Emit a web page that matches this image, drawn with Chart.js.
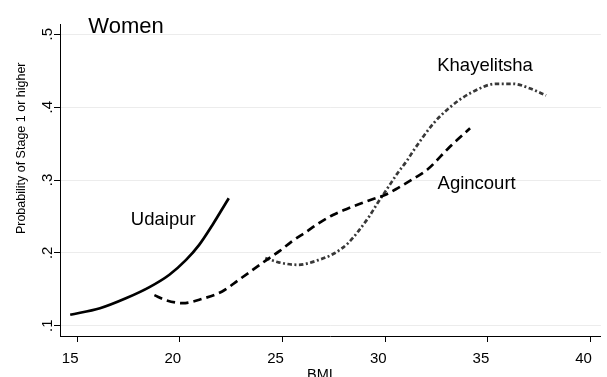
<!DOCTYPE html>
<html><head><meta charset="utf-8">
<script src="https://cdn.jsdelivr.net/npm/chart.js@4.4.1/dist/chart.umd.min.js"></script>
<style>html,body{margin:0;padding:0;background:#fff}#wrap{width:607px;height:377px}</style>
</head><body><div id="wrap"><canvas id="c" width="607" height="377"></canvas></div>
<script>
// ---- data ----
const udaipurBMI  = [14.66, 16.11, 17.40, 18.52, 19.49, 20.29, 20.94, 21.58, 22.38];
const udaipurProb = [0.115, 0.124, 0.138, 0.153, 0.170, 0.190, 0.211, 0.238, 0.275];

const agincourtBMI  = [18.76, 19.33, 20.13, 21.10, 22.06, 22.87, 24.16, 24.88, 25.44, 26.16, 26.81, 27.45, 28.10, 28.74, 29.38, 29.95, 30.59, 31.39, 32.04, 33.16, 34.13];
const agincourtProb = [0.142, 0.135, 0.131, 0.137, 0.147, 0.163, 0.189, 0.203, 0.2155, 0.229, 0.2415, 0.252, 0.260, 0.267, 0.2735, 0.279, 0.2885, 0.302, 0.314, 0.346, 0.371];

const khayelitshaBMI  = [24.16, 24.80, 25.76, 26.73, 27.53, 28.18, 28.74, 29.22, 29.62, 30.11, 30.59, 31.07, 31.39, 32.36, 33.16, 34.13, 35.41, 36.22, 37.02, 37.83];
const khayelitshaProb = [0.193, 0.187, 0.1836, 0.190, 0.1995, 0.213, 0.2315, 0.250, 0.268, 0.2886, 0.309, 0.327, 0.341, 0.378, 0.400, 0.419, 0.432, 0.432, 0.426, 0.416];

const xTickValues = [15, 20, 25, 30, 35, 40];
const xTickLabels = ['15', '20', '25', '30', '35', '40'];
const yTickValues = [0.1, 0.2, 0.3, 0.4, 0.5];
const yTickLabels = ['.1', '.2', '.3', '.4', '.5'];

const seriesNames = ['Udaipur', 'Agincourt', 'Khayelitsha'];
const seriesLabelBMI  = [19.19, 34.45, 34.86];
const seriesLabelProb = [0.2455, 0.2948, 0.4572];

const panelTitle = 'Women';
const xAxisTitle = 'BMI';
const yAxisTitle = 'Probability of Stage 1 or higher';

// ---- chart ----
const FONT = "'Liberation Sans', Arial, Helvetica, sans-serif";
Chart.defaults.font.family = FONT;
Chart.defaults.color = '#000';

const toXY = (xs, ys) => xs.map((x, i) => ({x: x, y: ys[i]}));

const textPlugin = {
  id: 'texts',
  afterDatasetsDraw(chart) {
    const ctx = chart.ctx;
    const xs = chart.scales.x, ys = chart.scales.y;
    ctx.save();
    ctx.fillStyle = '#000';
    // series labels
    ctx.font = '18.5px ' + FONT;
    ctx.textAlign = 'center';
    ctx.textBaseline = 'middle';
    seriesNames.forEach((n, i) => {
      ctx.fillText(n, xs.getPixelForValue(seriesLabelBMI[i]), ys.getPixelForValue(seriesLabelProb[i]));
    });
    // panel title
    ctx.font = '22px ' + FONT;
    ctx.textAlign = 'center';
    ctx.textBaseline = 'alphabetic';
    ctx.fillText(panelTitle, 126, 32.7);
    // x axis title
    ctx.font = '14.5px ' + FONT;
    ctx.fillText(xAxisTitle, 320, 378.5);
    // y axis title
    ctx.font = '12.5px ' + FONT;
    ctx.translate(25, 148.3);
    ctx.rotate(-Math.PI / 2);
    ctx.textAlign = 'center';
    ctx.textBaseline = 'alphabetic';
    ctx.fillText(yAxisTitle, 0, 0);
    ctx.restore();
  }
};

new Chart(document.getElementById('c'), {
  type: 'line',
  data: {
    datasets: [
      {label: seriesNames[0], data: toXY(udaipurBMI, udaipurProb), borderColor: '#000', borderWidth: 2.7, pointRadius: 0, cubicInterpolationMode: 'monotone', fill: false},
      {label: seriesNames[1], data: toXY(agincourtBMI, agincourtProb), borderColor: '#000', borderWidth: 2.7, borderDash: [8.5, 5], pointRadius: 0, cubicInterpolationMode: 'monotone', fill: false},
      {label: seriesNames[2], data: toXY(khayelitshaBMI, khayelitshaProb), borderColor: '#383838', borderWidth: 2.7, borderDash: [4.5, 2.5, 2, 2.5], pointRadius: 0, cubicInterpolationMode: 'monotone', fill: false}
    ]
  },
  options: {
    responsive: false,
    animation: false,
    devicePixelRatio: 1,
    layout: {padding: {top: 24, right: 2, left: 0, bottom: 0}},
    plugins: {legend: {display: false}, tooltip: {enabled: false}, title: {display: false}},
    scales: {
      x: {
        type: 'linear',
        min: 14.164, max: 40.5,
        afterBuildTicks: s => { s.ticks = xTickValues.map(v => ({value: v})); },
        afterFit: s => { s.height = 41; },
        ticks: {
          callback: (v, i) => xTickLabels[i],
          font: {size: 15},
          color: '#000',
          padding: 8,
          labelOffset: -7,
          maxRotation: 0, minRotation: 0
        },
        grid: {drawOnChartArea: false, tickLength: 6, tickColor: '#000', tickWidth: 1},
        border: {display: true, color: '#000', width: 1}
      },
      y: {
        type: 'linear',
        min: 0.0859, max: 0.5141,
        afterBuildTicks: s => { s.ticks = yTickValues.map(v => ({value: v})); },
        afterFit: s => { s.width = 60; },
        ticks: {
          callback: (v, i) => yTickLabels[i],
          font: {size: 15},
          color: '#000',
          padding: 0,
          crossAlign: 'center',
          minRotation: 90, maxRotation: 90
        },
        grid: {color: '#ececec', lineWidth: 1, tickLength: 6, tickColor: '#000', tickWidth: 1},
        border: {display: true, color: '#000', width: 1}
      }
    }
  },
  plugins: [textPlugin]
});
</script>
</body></html>
